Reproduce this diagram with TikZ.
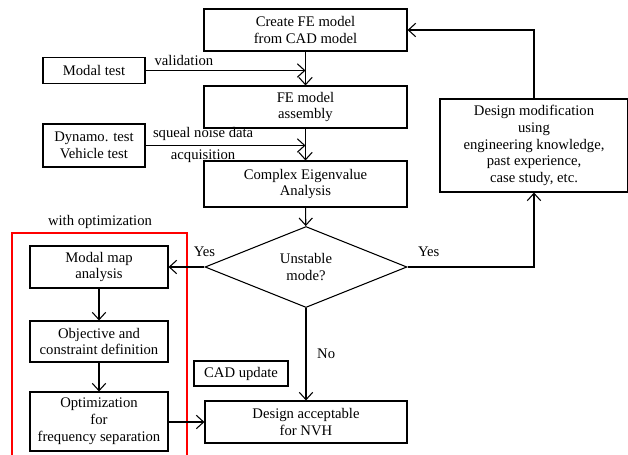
\documentclass[tikz,border=0pt]{standalone}
\usepackage{fontspec}
\setmainfont{Liberation Serif}
\usepackage{xcolor}
\usetikzlibrary{shapes.geometric, arrows.meta, positioning, calc}

\tikzset{
  box/.style={draw, line width=0.8pt, rectangle, align=center, inner sep=1pt, font=\fontsize{11}{12.6}\selectfont},
  decision/.style={draw, line width=0.8pt, diamond, align=center, inner sep=0pt, font=\fontsize{11}{12.6}\selectfont},
  flow/.style={line width=0.8pt, -{Straight Barb[length=5.5pt, width=10pt, line width=0.8pt]}},
  lbl/.style={font=\fontsize{11}{12.6}\selectfont, inner sep=0pt}
}

\begin{document}
\begin{tikzpicture}[x=0.75pt, y=-0.75pt]
\useasboundingbox (0,0) rectangle (628,454);

\node[box, minimum width=152.25pt, minimum height=31.5pt] (create) at (305.5,30) {Create FE model\\from CAD model};
\node[box, minimum width=152.25pt, minimum height=31.5pt] (assembly) at (305.5,107) {FE model\\assembly};
\node[box, minimum width=152.25pt, minimum height=34.5pt] (eigen) at (305.5,184) {Complex Eigenvalue\\Analysis};
\node[box, minimum width=76.5pt, minimum height=19.5pt] (modaltest) at (94,70.5) {Modal test};
\node[box, minimum width=76.5pt, minimum height=32.25pt] (dynamo) at (94,145.5) {Dynamo. test\\Vehicle test};
\node[box, minimum width=141pt, minimum height=69.75pt] (designmod) at (534,145.5) {Design modification\\using\\engineering knowledge,\\past experience,\\case study, etc.};
\node[decision, minimum width=151.5pt, minimum height=60.75pt] (unstable) at (306,267) {Unstable\\mode?};
\node[box, minimum width=103.5pt, minimum height=31.5pt] (modalmap) at (99,267) {Modal map\\analysis};
\node[box, minimum width=103.5pt, minimum height=30.75pt] (objective) at (99,341.5) {Objective and\\constraint definition};
\node[box, minimum width=103.5pt, minimum height=44.25pt] (optim) at (99,421.5) {Optimization\\for\\frequency separation};
\node[box, minimum width=151.5pt, minimum height=31.5pt] (accept) at (306,422) {Design acceptable\\for NVH};
\node[box, minimum width=70.5pt, minimum height=18.75pt] (cadupdate) at (241,373.5) {CAD update};

\draw[red, line width=1.1pt] (12,458) -- (12,233) -- (187,233) -- (187,458);
\node[lbl] (withopt) at (100,222) {with optimization};

\coordinate (valend) at (create.south |- modaltest.east);
\coordinate (sqend) at (assembly.south |- dynamo.east);

\draw[flow] (create) -- (assembly);
\draw[flow] (assembly) -- (eigen);
\draw[flow] (eigen) -- (unstable);
\draw[flow] (modaltest) -- node[lbl, pos=0.24, above=3pt] (validation) {validation} (valend);
\draw[flow] (dynamo) -- node[lbl, pos=0.36, above=3pt] (squeal) {squeal noise data} node[lbl, pos=0.36, below=3pt] (acquis) {acquisition} (sqend);
\draw[flow] (unstable) -- node[lbl, pos=0, anchor=south, yshift=7pt] (yesleft) {Yes} (modalmap);
\draw[flow] (unstable) -- node[lbl, pos=0.5, right=8pt] (no) {No} (accept);
\draw[flow] (unstable.east) -| node[lbl, pos=0.084, anchor=south, yshift=7pt] (yesright) {Yes} (designmod.south);
\draw[flow] (designmod.north) |- (create.east);
\draw[flow] (modalmap) -- (objective);
\draw[flow] (objective) -- (optim);
\draw[flow] (optim.east |- accept.west) -- (accept.west);
\end{tikzpicture}
\end{document}
